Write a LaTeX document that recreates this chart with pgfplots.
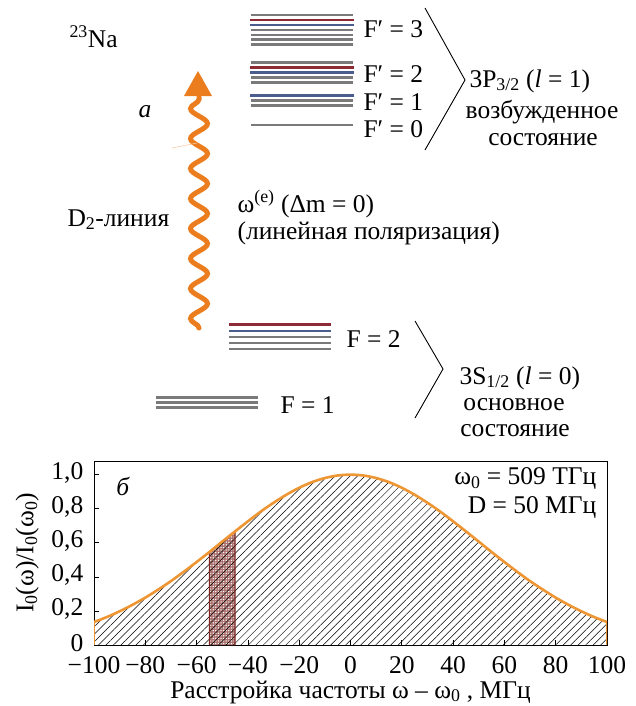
\documentclass[border=0pt]{standalone}
\usepackage{fontspec}
\setmainfont{Liberation Serif}
\usepackage{pgfplots}
\pgfplotsset{compat=1.18}
\usetikzlibrary{decorations.pathmorphing,patterns.meta}

\definecolor{lvgray}{HTML}{7A7A7A}
\definecolor{lvred}{HTML}{8E2A36}
\definecolor{lvblue}{HTML}{4B5C8E}
\definecolor{waveorange}{HTML}{EB7D1E}
\definecolor{curveorange}{HTML}{EE9633}
\definecolor{barred}{HTML}{7E2520}

\newcommand{\fs}{\fontsize{25.5}{29}\selectfont}

\begin{document}
\begin{tikzpicture}[x=1pt,y=1pt,font=\fs]
\useasboundingbox (0pt,0pt) rectangle (636pt,-706pt);

% ---------- energy level scheme (coordinates in points, y downwards) ----------
\begin{axis}[
  at={(0pt,0pt)}, anchor=north west, scale only axis,
  width=636pt, height=440pt,
  xmin=0, xmax=636, ymin=0, ymax=440, y dir=reverse,
  hide axis, clip=false,
  gl/.style={lvgray, line width=2.6pt},
  rl/.style={lvred, line width=2.6pt},
  bl/.style={lvblue, line width=2.6pt},
]
% 3P3/2, F'=3
\addplot[gl] coordinates {(251,15) (353,15)};
\addplot[rl] coordinates {(250,20) (354,20)};
\addplot[bl] coordinates {(250,25) (354,25)};
\addplot[gl] coordinates {(251,30) (353,30)};
\addplot[gl] coordinates {(251,35) (353,35)};
\addplot[gl] coordinates {(251,39.5) (353,39.5)};
\addplot[gl] coordinates {(251,44.5) (353,44.5)};
% F'=2
\addplot[gl] coordinates {(251,62.3) (353,62.3)};
\addplot[rl] coordinates {(250,67.3) (354,67.3)};
\addplot[bl] coordinates {(250,72.3) (354,72.3)};
\addplot[gl] coordinates {(251,77.3) (353,77.3)};
\addplot[gl] coordinates {(251,82.3) (353,82.3)};
% F'=1
\addplot[bl] coordinates {(250,95.7) (354,95.7)};
\addplot[gl] coordinates {(251,100.7) (353,100.7)};
\addplot[gl] coordinates {(251,105.7) (353,105.7)};
% F'=0
\addplot[gl] coordinates {(251,125) (353,125)};
% 3S1/2, F=2
\addplot[rl] coordinates {(229,324.5) (331,324.5)};
\addplot[bl] coordinates {(229,330.8) (331,330.8)};
\addplot[gl] coordinates {(229,337) (331,337)};
\addplot[gl] coordinates {(229,343) (331,343)};
\addplot[gl] coordinates {(229,349) (331,349)};
% F=1
\addplot[gl] coordinates {(156,397.7) (258,397.7)};
\addplot[gl] coordinates {(156,402.7) (258,402.7)};
\addplot[gl] coordinates {(156,407.7) (258,407.7)};

% brackets
\addplot[black, line width=0.9pt] coordinates {(425,8) (465,80) (425,150)};
\addplot[black, line width=0.9pt] coordinates {(415,321) (443,369) (415,418)};

% photon: wavy line with arrow head
\draw[waveorange, line width=5pt, line cap=round,
      decorate, decoration={snake, amplitude=8.5pt, segment length=30pt}]
  (axis cs:199,328) -- (axis cs:199,97);
\addplot[fill=waveorange, draw=none] coordinates {(184,96) (212,96) (198,71)} -- cycle;
\addplot[color=waveorange!40, line width=0.6pt] coordinates {(172,148) (197,143)};

% labels
\node[anchor=base west] at (axis cs:66,47) {\textsuperscript{23}Na};
\node at (axis cs:145,112) {\textit{а}};
\node[anchor=base west] at (axis cs:64,226) {D\textsubscript{2}-линия};
\node[anchor=base west] at (axis cs:234,212) {ω\textsuperscript{(e)} (Δm = 0)};
\node[anchor=base west] at (axis cs:234,239) {(линейная поляризация)};

\node[anchor=base west] at (axis cs:360,37) {F′ = 3};
\node[anchor=base west] at (axis cs:360,82) {F′ = 2};
\node[anchor=base west] at (axis cs:360,110) {F′ = 1};
\node[anchor=base west] at (axis cs:360,137) {F′ = 0};
\node[anchor=base west] at (axis cs:466,87) {3P\textsubscript{3/2} (\textit{l} = 1)};
\node[anchor=base] at (axis cs:542,118) {возбужденное};
\node[anchor=base] at (axis cs:543,145) {состояние};

\node[anchor=base west] at (axis cs:343,347) {F = 2};
\node[anchor=base west] at (axis cs:277,413) {F = 1};
\node[anchor=base west] at (axis cs:456,384) {3S\textsubscript{1/2} (\textit{l} = 0)};
\node[anchor=base] at (axis cs:514,410) {основное};
\node[anchor=base] at (axis cs:515,436) {состояние};
\end{axis}

% ---------- spectral profile ----------
\begin{axis}[
  at={(94pt,-645pt)}, anchor=south west, scale only axis,
  width=513pt, height=184pt,
  xmin=-100, xmax=100, ymin=0, ymax=1.08,
  xtick={-100,-80,-60,-40,-20,0,20,40,60,80,100},
  xticklabels={−100,−80,−60,−40,−20,0,20,40,60,80,100},
  ytick={0,0.2,0.4,0.6,0.8,1},
  yticklabels={0,{0,2},{0,4},{0,6},{0,8},{1,0}},
  tick align=inside, xtick pos=bottom, ytick pos=left,
  major tick length=5pt,
  tick style={black, line width=0.7pt},
  axis line style={black, line width=0.8pt},
  ticklabel style={font=\fs, inner sep=0.5pt},
  xticklabel style={yshift=-11pt},
  yticklabel style={xshift=-10pt, yshift=1.5pt},
  label style={font=\fs},
  xlabel={Расстройка частоты ω – ω\textsubscript{0} , МГц},
  xlabel style={at={(axis description cs:0.5,0)}, anchor=center, yshift=-47pt},
  ylabel={I\textsubscript{0}(ω)/I\textsubscript{0}(ω\textsubscript{0})},
  ylabel style={at={(axis description cs:-0.13,0.5)}, anchor=center},
]
% selected frequency band
\addplot[draw=none, fill=barred!65] coordinates {(-55,0) (-55,0.546) (-50,0.607) (-45,0.667) (-45,0)} -- cycle;
\addplot[draw=none, pattern={Dots[distance=2.6pt, radius=0.75pt]}, pattern color=white]
  coordinates {(-55,0) (-55,0.546) (-50,0.607) (-45,0.667) (-45,0)} -- cycle;

% hatched area under the line profile
\addplot[draw=none, pattern={Lines[angle=45, distance=5.3pt, line width=0.5pt]}, pattern color=black, smooth]
  coordinates {
  (-100,0.135) (-95,0.164) (-90,0.198) (-85,0.236) (-80,0.278) (-75,0.325)
  (-70,0.375) (-65,0.430) (-60,0.487) (-55,0.546) (-50,0.607) (-45,0.667)
  (-40,0.726) (-35,0.783) (-30,0.835) (-25,0.882) (-20,0.923) (-15,0.956)
  (-10,0.980) (-5,0.995) (0,1.000) (5,0.995) (10,0.980) (15,0.956)
  (20,0.923) (25,0.882) (30,0.835) (35,0.783) (40,0.726) (45,0.667)
  (50,0.607) (55,0.546) (60,0.487) (65,0.430) (70,0.375) (75,0.325)
  (80,0.278) (85,0.236) (90,0.198) (95,0.164) (100,0.135)} \closedcycle;

\addplot[draw=barred, line width=1.3pt] coordinates {(-55,0) (-55,0.546) (-50,0.607) (-45,0.667) (-45,0)};

% profile line
\addplot[curveorange, line width=2.6pt, smooth]
  coordinates {
  (-100,0.135) (-95,0.164) (-90,0.198) (-85,0.236) (-80,0.278) (-75,0.325)
  (-70,0.375) (-65,0.430) (-60,0.487) (-55,0.546) (-50,0.607) (-45,0.667)
  (-40,0.726) (-35,0.783) (-30,0.835) (-25,0.882) (-20,0.923) (-15,0.956)
  (-10,0.980) (-5,0.995) (0,1.000) (5,0.995) (10,0.980) (15,0.956)
  (20,0.923) (25,0.882) (30,0.835) (35,0.783) (40,0.726) (45,0.667)
  (50,0.607) (55,0.546) (60,0.487) (65,0.430) (70,0.375) (75,0.325)
  (80,0.278) (85,0.236) (90,0.198) (95,0.164) (100,0.135)};
\addplot[curveorange, line width=2.6pt] coordinates {(-100,0) (-100,0.135)};
\addplot[curveorange, line width=2.6pt] coordinates {(100,0) (100,0.135)};

\node at (rel axis cs:0.057,0.86) {\textit{б}};
\node[anchor=east] at (rel axis cs:0.986,0.905) {ω\textsubscript{0} = 509 ТГц};
\node[anchor=east] at (rel axis cs:0.986,0.745) {D = 50 МГц};
\end{axis}
\end{tikzpicture}
\end{document}
